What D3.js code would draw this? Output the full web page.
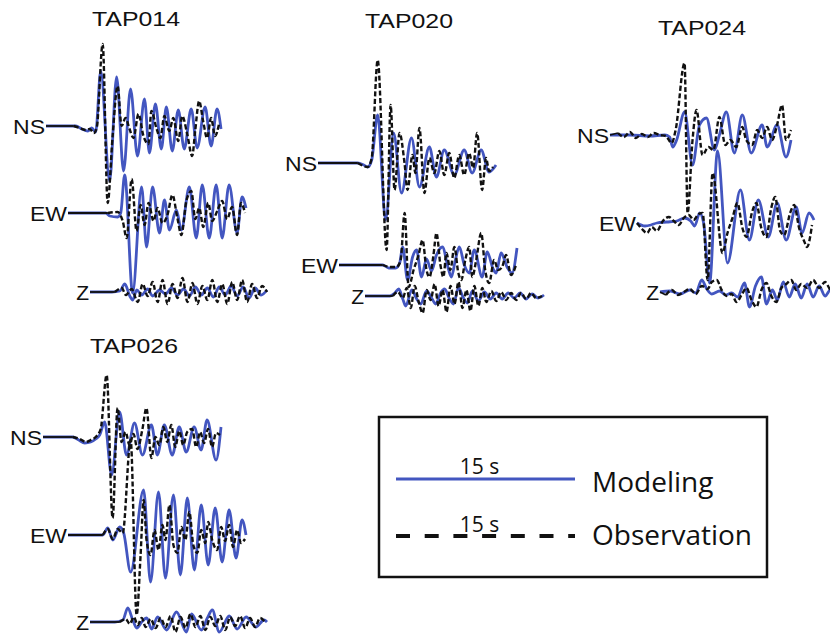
<!DOCTYPE html>
<html><head><meta charset="utf-8">
<script src="https://cdn.jsdelivr.net/npm/d3@7"></script>
<style>html,body{margin:0;padding:0;background:#fff;}svg{display:block;}</style>
</head><body>
<svg id="chart" width="830" height="637"></svg>
<script>
// ---------------- DATA ----------------
const stations = ["TAP014", "TAP020", "TAP024", "TAP026"];
const components = ["NS", "EW", "Z"];
const sampleRate = 12;        // samples per second (time values below are sample indices)
const windowSeconds = 15;     // each trace spans 15 s
const legendLabels = ["Modeling", "Observation"];
const scaleBarLabel = "15 s";

// [sample, amplitude] pairs (amplitude positive up)
// TAP014
const mod_TAP014_NS = [[0,0],[30,0],[36,-3],[42,-5],[46,-2],[50,-6],[55,55],[64,-55],[71,49],[78,-45],[85,37],[92,-30],[99,27],[104,-27],[110,22],[116,-23],[121,19],[127,-25],[133,16],[139,-23],[146,17],[152,-22],[160,19],[166,-20],[172,17],[176,-3]];
const obs_TAP014_NS = [[0,0],[28,0],[34,-2],[40,-4],[44,-3],[48,-7],[51,-2],[57,82],[62,-77],[67,-10],[72,40],[76,0],[80,8],[84,-3],[88,-12],[93,12],[98,-10],[103,-18],[106,15],[111,-2],[115,-12],[119,10],[124,-5],[128,8],[133,-15],[137,10],[142,-8],[147,-30],[150,-5],[154,25],[158,5],[162,-12],[166,8],[170,-10],[174,2]];
const mod_TAP014_EW = [[0,0],[38,0],[42,-3],[50,-4],[53,0],[57,38],[65,-80],[74,26],[79,-34],[85,26],[92,-20],[97,13],[102,-17],[109,3],[114,-17],[122,26],[129,-25],[135,28],[142,-25],[149,28],[155,-25],[162,28],[170,-20],[175,16],[179,5]];
const obs_TAP014_EW = [[0,0],[40,0],[50,1],[55,-8],[59,-25],[64,34],[69,-18],[73,8],[77,-12],[81,10],[86,-8],[90,5],[95,-10],[100,-2],[105,18],[110,-5],[114,-22],[119,12],[124,22],[128,-6],[132,5],[136,-14],[141,10],[145,-8],[150,2],[155,12],[160,-6],[165,6],[170,-22],[174,10],[178,0]];
const mod_TAP014_Z = [[0,0],[22,0],[30,1],[35,8],[40,-4],[43,-8],[47,2],[52,-3],[58,3],[63,-4],[70,2],[76,-2],[82,4],[88,-3],[94,3],[100,-4],[106,5],[112,-3],[118,4],[124,-5],[130,5],[136,-3],[142,6],[148,-4],[154,5],[160,-6],[166,4],[172,-3],[178,2]];
const obs_TAP014_Z = [[0,0],[25,0],[32,4],[36,-3],[42,3],[48,-10],[53,8],[58,-4],[63,10],[68,-10],[73,12],[78,-12],[83,8],[88,-6],[93,14],[98,-10],[103,9],[108,-12],[113,6],[118,-8],[123,12],[128,-10],[133,8],[138,-12],[143,10],[148,-8],[153,12],[158,-10],[163,8],[168,-6],[173,6],[178,0]];

// TAP020
const mod_TAP020_NS = [[0,0],[40,0],[46,-2],[50,-4],[54,3],[60,48],[68,-57],[76,30],[84,-30],[94,25],[102,-24],[112,16],[119,-14],[127,13],[137,-12],[147,13],[155,-10],[164,13],[172,-9],[179,-2]];
const obs_TAP020_NS = [[0,0],[40,0],[46,-3],[50,-4],[54,5],[60,103],[69,-87],[73,58],[77,-27],[82,30],[87,0],[90,-27],[95,8],[98,-10],[102,35],[107,-30],[112,5],[117,-10],[122,12],[127,-12],[132,10],[137,-15],[142,8],[147,-12],[152,10],[156,-5],[160,30],[165,-27],[169,5],[172,-8],[176,-4]];
const mod_TAP020_EW = [[0,0],[44,0],[50,-3],[57,-3],[61,2],[64,18],[69,-15],[74,8],[78,15],[83,-12],[88,6],[93,-6],[98,10],[104,18],[110,-4],[113,-12],[117,5],[121,18],[126,0],[131,-8],[136,15],[144,-12],[149,13],[155,-4],[158,-8],[163,12],[169,-2],[174,-8],[179,17]];
const obs_TAP020_EW = [[0,0],[44,0],[52,-2],[58,-2],[62,5],[66,52],[70,-22],[75,-5],[80,10],[84,25],[88,-5],[91,-12],[95,10],[98,32],[102,0],[105,-12],[108,12],[112,-5],[116,18],[120,-8],[123,-15],[127,5],[131,18],[134,-12],[138,5],[143,32],[147,-5],[151,-18],[156,5],[160,-5],[164,-2],[168,10],[173,-10],[178,0]];
const mod_TAP020_Z = [[0,0],[25,0],[30,3],[34,7],[38,-3],[41,-10],[47,6],[52,-3],[56,-8],[62,5],[67,-2],[71,-8],[76,3],[80,7],[85,-3],[89,-8],[94,8],[99,-2],[103,-7],[108,5],[114,-5],[120,4],[126,-3],[132,3],[138,-3],[144,3],[150,-2],[156,3],[162,-3],[168,2],[174,-2],[180,1]];
const obs_TAP020_Z = [[0,0],[28,0],[33,4],[38,-2],[42,8],[46,-12],[50,10],[54,-6],[58,-17],[62,6],[66,-4],[70,12],[74,-10],[78,6],[82,-16],[86,10],[90,-8],[94,14],[98,-12],[102,6],[106,-15],[110,10],[114,-10],[118,8],[122,-6],[127,5],[132,-5],[137,4],[142,-4],[147,3],[152,-4],[157,3],[162,-3],[167,3],[172,-2],[178,0]];

// TAP024
const mod_TAP024_NS = [[0,0],[20,0],[40,-1],[55,0],[60,-2],[63,-12],[67,-5],[75,23],[83,-30],[90,10],[97,17],[105,-15],[110,0],[117,23],[125,-18],[133,20],[142,-18],[153,10],[158,-12],[168,10],[177,-22],[182,-5]];
const obs_TAP024_NS = [[0,0],[8,2],[14,-2],[20,3],[26,-3],[32,1],[38,-2],[44,2],[50,0],[56,-1],[62,-8],[66,5],[75,72],[78,-78],[83,-5],[87,25],[93,-20],[99,-12],[104,-15],[110,18],[116,-10],[121,-5],[127,-12],[133,8],[137,-5],[143,-10],[148,5],[153,-3],[158,8],[163,-5],[168,10],[173,30],[177,-5],[182,5]];
const mod_TAP024_EW = [[0,0],[8,-3],[14,-2],[20,0],[30,1],[40,2],[48,5],[54,2],[58,-3],[63,10],[67,0],[73,-60],[81,72],[91,-40],[104,33],[113,-17],[122,23],[132,-14],[141,20],[150,-17],[160,16],[166,-10],[173,10],[178,3]];
const obs_TAP024_EW = [[0,0],[5,-6],[10,-10],[15,-4],[20,-8],[26,2],[32,6],[37,2],[42,-2],[47,5],[52,8],[57,3],[62,9],[66,10],[71,-57],[76,50],[86,-30],[91,-10],[96,5],[101,20],[106,-5],[110,-14],[116,12],[120,20],[125,-5],[130,-14],[135,15],[139,26],[144,-8],[148,-12],[154,10],[158,18],[163,-5],[168,-18],[171,-24],[176,-2]];
const mod_TAP024_Z = [[0,0],[10,1],[20,-2],[30,2],[36,-1],[42,12],[47,3],[52,-2],[60,1],[66,-3],[72,-1],[78,-5],[85,9],[90,-15],[96,6],[102,15],[107,-12],[113,2],[118,-8],[124,10],[130,-5],[136,8],[142,-6],[148,8],[154,-5],[160,6],[166,-4],[172,3],[180,0]];
const obs_TAP024_Z = [[0,0],[6,-3],[12,2],[18,-3],[24,0],[30,3],[36,-2],[42,6],[48,3],[52,10],[57,12],[62,2],[67,-4],[72,-2],[77,-10],[82,-3],[87,4],[92,-8],[97,-15],[102,2],[107,9],[112,-4],[117,-10],[122,4],[127,8],[132,12],[137,2],[142,8],[148,4],[154,12],[160,4],[166,10],[172,2],[180,4]];

// TAP026
const mod_TAP026_NS = [[0,0],[30,0],[36,-3],[42,-6],[48,-5],[53,-2],[57,2],[62,15],[69,-38],[77,25],[84,-18],[92,14],[100,-18],[109,12],[115,-18],[122,12],[130,-18],[137,10],[144,-15],[152,10],[159,-13],[165,17],[174,-23],[179,10]];
const obs_TAP026_NS = [[0,0],[30,0],[37,-2],[43,-5],[48,-3],[53,0],[58,8],[64,62],[70,-81],[75,29],[79,-5],[83,5],[87,-8],[91,3],[95,-12],[100,8],[104,29],[109,-21],[113,0],[117,-8],[121,10],[125,-5],[129,12],[133,-10],[137,6],[141,-8],[145,5],[150,8],[154,-10],[158,5],[162,-6],[166,8],[170,-10],[174,4],[178,2]];
const mod_TAP026_EW = [[0,0],[35,0],[40,7],[45,-5],[52,8],[56,2],[63,-37],[76,45],[83,-47],[91,43],[98,-43],[106,40],[113,-40],[120,37],[127,-35],[134,30],[141,-30],[148,27],[155,-27],[162,25],[169,-23],[175,15],[179,0]];
const obs_TAP026_EW = [[0,0],[35,0],[40,6],[45,-4],[50,6],[55,2],[63,95],[69,-80],[73,-20],[76,35],[79,-5],[83,-20],[87,5],[91,-15],[95,10],[98,-5],[102,30],[106,-10],[110,-18],[114,8],[118,-5],[122,23],[126,-10],[130,-18],[134,5],[138,-8],[141,13],[145,-5],[150,-15],[154,8],[158,-6],[162,10],[166,-12],[170,5],[174,-8],[178,-4]];
const mod_TAP026_Z = [[0,0],[25,0],[33,2],[38,14],[43,2],[47,-6],[52,0],[57,4],[62,-7],[68,5],[77,-8],[87,10],[97,-10],[102,8],[112,-8],[118,4],[123,12],[130,-10],[140,6],[148,-7],[157,5],[167,-5],[175,2],[178,0]];
const obs_TAP026_Z = [[0,0],[30,0],[36,3],[40,-2],[44,5],[48,-3],[52,4],[56,-5],[61,3],[66,-6],[71,4],[76,-5],[81,6],[86,-10],[91,5],[96,-6],[101,8],[106,-5],[111,6],[116,-8],[121,5],[126,-4],[131,6],[136,-8],[141,5],[146,-4],[151,6],[156,-6],[161,4],[166,-5],[171,4],[176,0]];

// quiet lead (samples) drawn as a solid reference line, per station [NS, EW, Z]
const quietLead = { TAP014: [28, 40, 25], TAP020: [40, 44, 28], TAP024: [8, 0, 6], TAP026: [30, 35, 30] };

// ---------------- LAYOUT ----------------
const W = 830, H = 637;
const barPx = 179;           // pixel length of the 15 s scale bar
const blue = "#4356c0";
const layout = {
  TAP014: { title: [136, 26], x0: [46, 68, 90],    y0: [126, 213, 292] },
  TAP020: { title: [409, 28], x0: [318, 339, 365], y0: [163, 265, 296] },
  TAP024: { title: [702, 35], x0: [610, 637, 660], y0: [135, 223, 292] },
  TAP026: { title: [134, 353], x0: [43, 68, 90],   y0: [437, 535, 622] }
};
const labelLen = { NS: 32, EW: 37, Z: null };

const traces = {
  TAP014: { NS: [mod_TAP014_NS, obs_TAP014_NS], EW: [mod_TAP014_EW, obs_TAP014_EW], Z: [mod_TAP014_Z, obs_TAP014_Z] },
  TAP020: { NS: [mod_TAP020_NS, obs_TAP020_NS], EW: [mod_TAP020_EW, obs_TAP020_EW], Z: [mod_TAP020_Z, obs_TAP020_Z] },
  TAP024: { NS: [mod_TAP024_NS, obs_TAP024_NS], EW: [mod_TAP024_EW, obs_TAP024_EW], Z: [mod_TAP024_Z, obs_TAP024_Z] },
  TAP026: { NS: [mod_TAP026_NS, obs_TAP026_NS], EW: [mod_TAP026_EW, obs_TAP026_EW], Z: [mod_TAP026_Z, obs_TAP026_Z] }
};

const svg = d3.select("#chart");
svg.append("rect").attr("width", W).attr("height", H).attr("fill", "#fff");

stations.forEach(st => {
  const L = layout[st];
  const g = svg.append("g").attr("class", "station");
  g.append("text")
    .attr("x", L.title[0]).attr("y", L.title[1])
    .attr("text-anchor", "middle")
    .attr("font-family", "'Liberation Sans', Arial, Helvetica, sans-serif")
    .attr("font-size", 21).attr("fill", "#111")
    .attr("textLength", 88).attr("lengthAdjust", "spacingAndGlyphs")
    .text(st);

  const modelLayer = g.append("g");
  const obsLayer = g.append("g");
  const labelLayer = g.append("g");

  components.forEach((c, i) => {
    const x = d3.scaleLinear().domain([0, windowSeconds]).range([L.x0[i], L.x0[i] + barPx]);
    const y = d3.scaleLinear().domain([-100, 100]).range([L.y0[i] + 100, L.y0[i] - 100]);
    const line = d3.line()
      .x(d => x(d[0] / sampleRate))
      .y(d => y(d[1]))
      .curve(d3.curveMonotoneX);
    const [mod, obs] = traces[st][c];
    const lead = quietLead[st][i];

    modelLayer.append("path").datum(mod)
      .attr("d", line).attr("fill", "none")
      .attr("stroke", blue).attr("stroke-width", 2.8)
      .attr("stroke-linejoin", "round");

    const quiet = obs.filter(d => d[0] <= lead);
    const active = obs.filter(d => d[0] >= lead);
    if (quiet.length > 1) {
      obsLayer.append("path").datum(quiet)
        .attr("d", line).attr("fill", "none")
        .attr("stroke", "#111").attr("stroke-width", 1.8);
    }
    obsLayer.append("path").datum(active)
      .attr("d", line).attr("fill", "none")
      .attr("stroke", "#111").attr("stroke-width", 2.4)
      .attr("stroke-dasharray", "5,2.5");

    const t = labelLayer.append("text")
      .attr("x", x(0) - 1).attr("y", y(0))
      .attr("text-anchor", "end").attr("dominant-baseline", "central")
      .attr("font-family", "'Liberation Sans', Arial, Helvetica, sans-serif")
      .attr("font-size", 21).attr("fill", "#111")
      .text(c);
    if (labelLen[c]) t.attr("textLength", labelLen[c]).attr("lengthAdjust", "spacingAndGlyphs");
  });
});

// ---------------- LEGEND ----------------
const lg = svg.append("g").attr("class", "legend");
lg.append("rect").attr("x", 379).attr("y", 417).attr("width", 388).attr("height", 160)
  .attr("fill", "#fff").attr("stroke", "#111").attr("stroke-width", 2.5);
const lx = d3.scaleLinear().domain([0, windowSeconds]).range([396, 396 + barPx]);
const rows = [{ y: 479, dash: null, w: 3, color: blue, ty: 474, label: legendLabels[0], ly: 492 },
              { y: 536, dash: "14,14.7", w: 4, color: "#111", ty: 532, label: legendLabels[1], ly: 545 }];
rows.forEach(r => {
  const ln = lg.append("line").attr("x1", lx(0)).attr("x2", lx(windowSeconds))
    .attr("y1", r.y).attr("y2", r.y).attr("stroke", r.color).attr("stroke-width", r.w);
  if (r.dash) ln.attr("stroke-dasharray", r.dash);
  lg.append("text").attr("x", lx(windowSeconds / 2) - 6).attr("y", r.ty)
    .attr("text-anchor", "middle")
    .attr("font-family", "'Open Sans', 'Noto Sans', sans-serif")
    .attr("font-size", 21).attr("fill", "#111").text(scaleBarLabel);
  lg.append("text").attr("x", 592).attr("y", r.ly)
    .attr("font-family", "'Open Sans', 'Noto Sans', sans-serif")
    .attr("font-size", 28).attr("fill", "#111").text(r.label);
});
</script>
</body></html>
